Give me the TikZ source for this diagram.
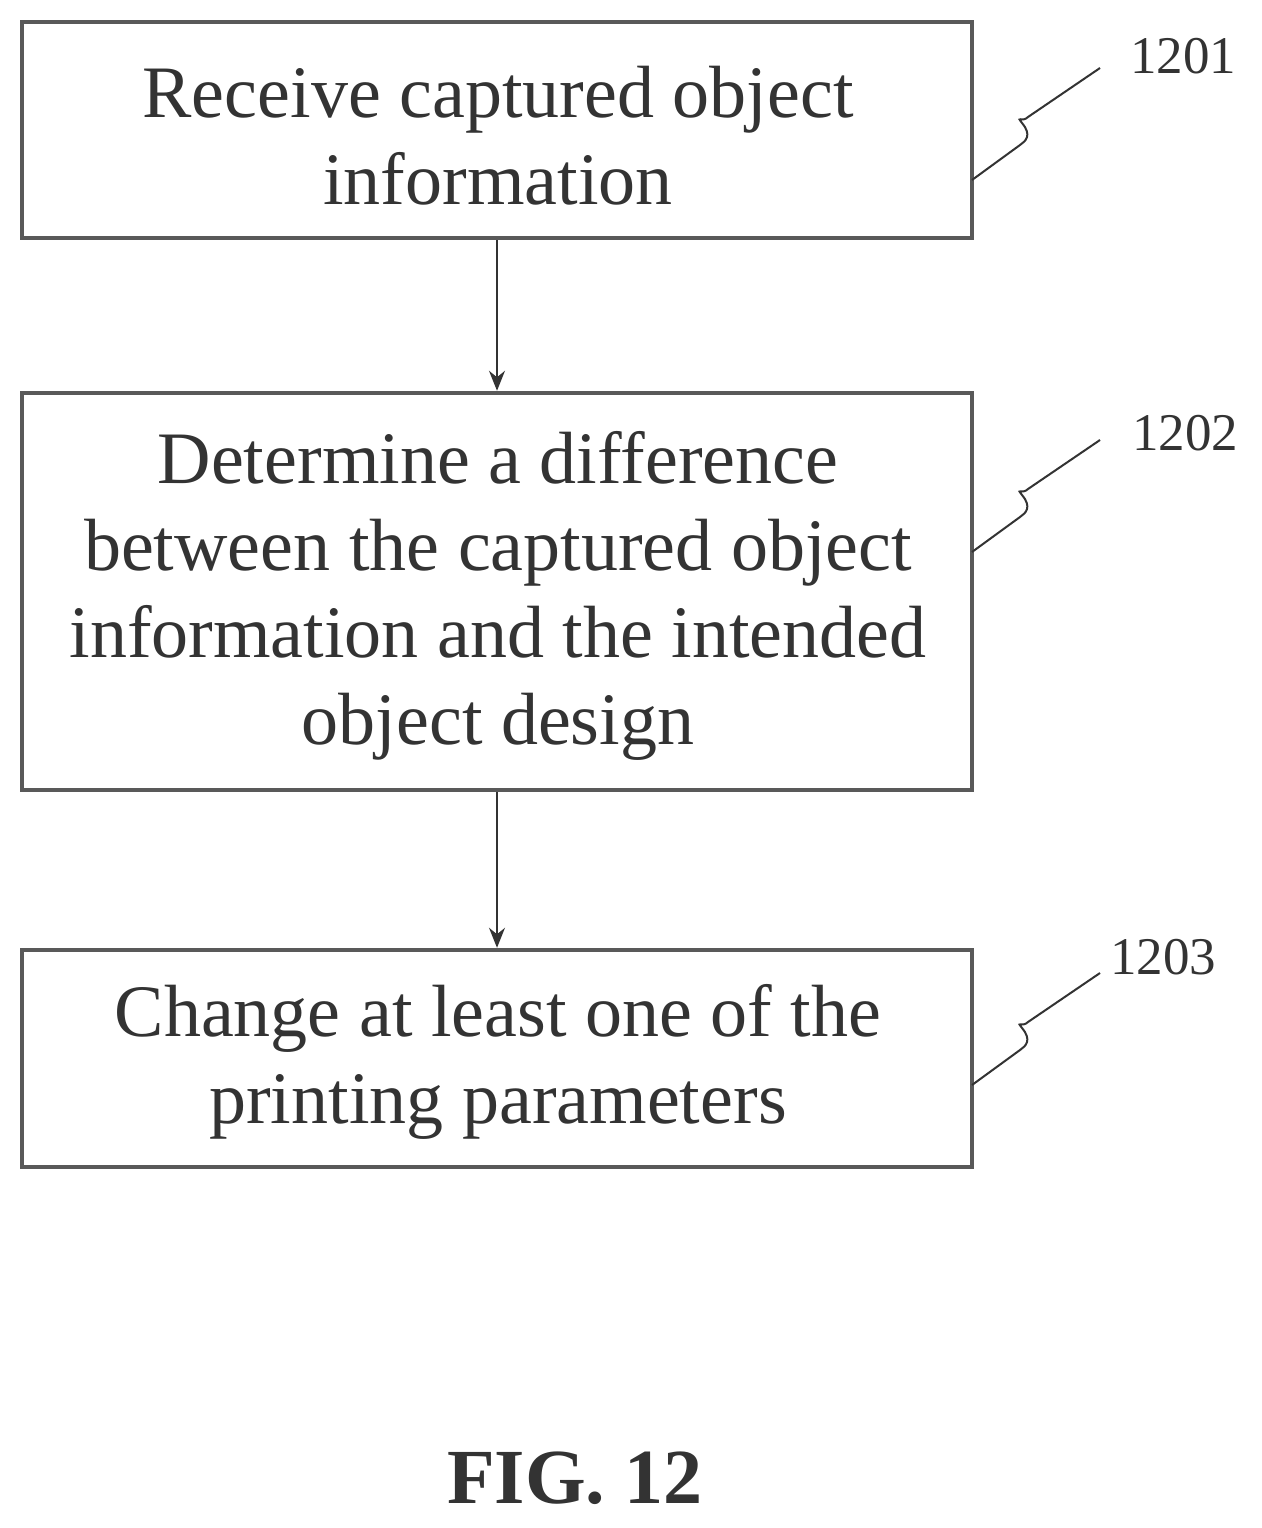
\documentclass[tikz,border=0pt]{standalone}
\usetikzlibrary{arrows.meta}
\usepackage{fontspec}
\setmainfont{Liberation Serif}
\begin{document}
\begin{tikzpicture}[x=1pt,y=-1pt,
box/.style={draw=gray!70!black,line width=4.5pt,inner sep=0pt},
txt/.style={align=center,font=\fontsize{74}{87}\selectfont,text=black!80},
lab/.style={font=\fontsize{53}{56}\selectfont,text=black!80,anchor=base},
arr/.style={draw=black!80,line width=1.3pt,-{Stealth[length=20pt,width=16pt]}},
sq/.style={draw=black!80,line width=2pt}]
\useasboundingbox (0,0) rectangle (1261,1528);
\node[box,minimum width=950pt,minimum height=216pt] (b1) at (497,130) {};
\node[box,minimum width=950pt,minimum height=397pt] (b2) at (497,591.5) {};
\node[box,minimum width=950pt,minimum height=217pt] (b3) at (497,1058.5) {};
\node[txt] (t1) at (498,136) {Receive captured object\\information};
\node[txt] (t2) at (498,596) {Determine a difference\\between the captured object\\information and the intended\\object design};
\node[txt] (t3) at (498,1062) {Change at least one of the\\printing parameters};
\draw[arr] (b1.south) -- (b2.north);
\draw[arr] (b2.south) -- (b3.north);
\node[lab] (l1) at (1183,74) {1201};
\node[lab] (l2) at (1185,450) {1202};
\node[lab] (l3) at (1163,974) {1203};
\coordinate (s1) at (972,180);
\coordinate (s2) at (972,552);
\coordinate (s3) at (972,1085);
\foreach \s in {s1,s2,s3}{
\draw[sq] (\s) -- ++(48,-35) .. controls +(6,-4) and +(10,12) .. ++(2,-22) .. controls +(-6,-8) and +(-6,6) .. ++(6,-6) -- ++(72,-49);}
\node[font=\bfseries\fontsize{78}{80}\selectfont,text=black!80] (f) at (575,1478) {FIG. 12};
\end{tikzpicture}
\end{document}
